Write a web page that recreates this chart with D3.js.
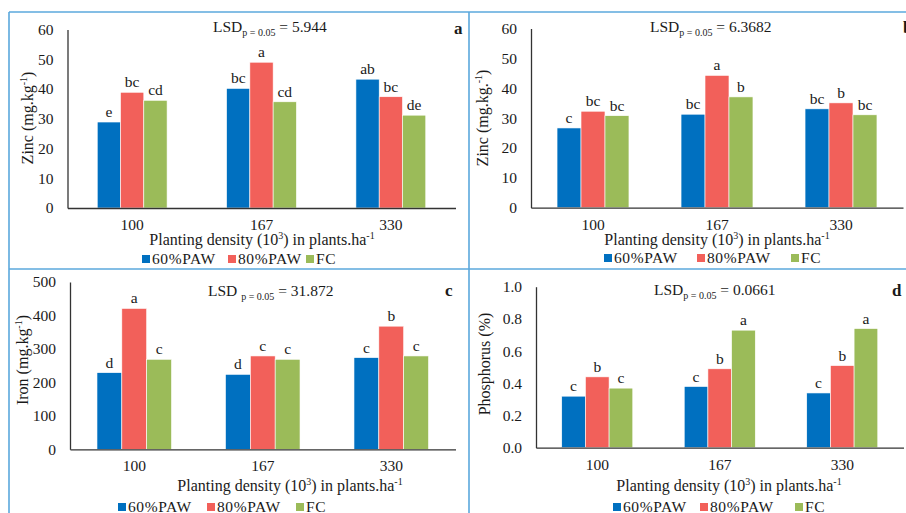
<!DOCTYPE html>
<html><head><meta charset="utf-8">
<script src="https://cdn.jsdelivr.net/npm/d3@7"></script>
<style>
body{margin:0;background:#fff}
svg{display:block}
text{font-family:"Liberation Serif","Times New Roman",serif;fill:#1a1a1a}
</style>
</head><body><svg id="c" width="906" height="513"></svg>
<script>
// ---------- data ----------
const categories = ["100", "167", "330"];
const seriesNames = ["60%PAW", "80%PAW", "FC"];
const seriesColors = ["#0070C0", "#F2605A", "#9BBB59"];

// Panel a – Zinc
const zincA60 = [28.9, 40.2, 43.3];
const zincA80 = [38.9, 49.0, 37.4];
const zincAFC = [36.2, 35.7, 31.2];
const zincALet60 = ["e", "bc", "ab"];
const zincALet80 = ["bc", "a", "bc"];
const zincALetFC = ["cd", "cd", "de"];
const zincATicks = [0, 10, 20, 30, 40, 50, 60];
const zincALsd = "5.944";

// Panel b – Zinc
const zincB60 = [26.7, 31.3, 33.1];
const zincB80 = [32.3, 44.3, 35.1];
const zincBFC = [30.8, 37.1, 31.1];
const zincBLet60 = ["c", "bc", "bc"];
const zincBLet80 = ["bc", "a", "b"];
const zincBLetFC = ["bc", "b", "bc"];
const zincBTicks = [0, 10, 20, 30, 40, 50, 60];
const zincBLsd = "6.3682";

// Panel c – Iron
const iron60 = [229, 224, 274];
const iron80 = [421, 279, 368];
const ironFC = [269, 269, 279];
const ironLet60 = ["d", "d", "c"];
const ironLet80 = ["a", "c", "b"];
const ironLetFC = ["c", "c", "c"];
const ironTicks = [0, 100, 200, 300, 400, 500];
const ironLsd = "31.872";

// Panel d – Phosphorus
const phos60 = [0.32, 0.38, 0.34];
const phos80 = [0.44, 0.49, 0.51];
const phosFC = [0.37, 0.73, 0.74];
const phosLet60 = ["c", "c", "c"];
const phosLet80 = ["b", "b", "b"];
const phosLetFC = ["c", "a", "a"];
const phosTicks = [0, 0.2, 0.4, 0.6, 0.8, 1.0];
const phosLsd = "0.0661";

// ---------- drawing ----------
const svg = d3.select("#c");
const borderColor = "#5BA8DC";

// panel frames
svg.append("line").attr("x1", 9).attr("x2", 906).attr("y1", 12).attr("y2", 12).attr("stroke", borderColor).attr("stroke-width", 1.6);
svg.append("line").attr("x1", 9).attr("x2", 906).attr("y1", 269).attr("y2", 269).attr("stroke", borderColor).attr("stroke-width", 1.6);
svg.append("line").attr("x1", 9).attr("x2", 9).attr("y1", 12).attr("y2", 513).attr("stroke", borderColor).attr("stroke-width", 1.6);
svg.append("line").attr("x1", 469).attr("x2", 469).attr("y1", 12).attr("y2", 513).attr("stroke", borderColor).attr("stroke-width", 1.6);

function drawPanel(p) {
  const g = svg.append("g");
  const x = d3.scaleBand().domain(categories).range([p.x0, p.x1]).paddingInner(0).paddingOuter(0);
  const step = x.bandwidth();
  const xs = d3.scaleBand().domain(seriesNames)
    .range([step * (0.5 - p.group / 2), step * (0.5 + p.group / 2)]).padding(0);
  const y = d3.scaleLinear().domain([0, p.yMax]).range([p.yBase, p.yTop]);

  // bars
  seriesNames.forEach((s, si) => {
    const vals = p.values[si];
    const lets = p.letters[si];
    g.selectAll(null).data(categories).enter().append("rect")
      .attr("x", (c) => x(c) + xs(s))
      .attr("y", (c, i) => y(vals[i]))
      .attr("width", xs.bandwidth())
      .attr("height", (c, i) => p.yBase - y(vals[i]))
      .attr("fill", seriesColors[si])
      .attr("stroke", "#ffffff").attr("stroke-width", 0.6);
    g.selectAll(null).data(categories).enter().append("text")
      .attr("x", (c) => x(c) + xs(s) + xs.bandwidth() / 2)
      .attr("y", (c, i) => y(vals[i]) - 5)
      .attr("text-anchor", "middle")
      .attr("font-size", 15.5)
      .text((c, i) => lets[i]);
  });

  // y axis
  const ya = g.append("g").attr("transform", `translate(${p.x0},0)`)
    .call(d3.axisLeft(y).tickValues(p.ticks).tickSize(0).tickPadding(14).tickFormat(p.fmt));
  ya.select(".domain").attr("stroke", "#333").attr("stroke-width", 1.3);
  ya.selectAll("text").attr("font-size", 15.5).attr("font-family", '"Liberation Serif", serif').attr("fill", "#1a1a1a");

  // x axis
  const xa = g.append("g").attr("transform", `translate(0,${p.yBase})`)
    .call(d3.axisBottom(x).tickSize(0).tickPadding(11));
  xa.select(".domain").attr("stroke", "#333").attr("stroke-width", 1.3);
  xa.selectAll("text").attr("font-size", 15.5).attr("font-family", '"Liberation Serif", serif').attr("fill", "#1a1a1a");

  // x title
  const xt = g.append("text").attr("x", p.xTitleX).attr("y", p.yBase + p.xTitleDy)
    .attr("text-anchor", "middle").attr("font-size", 16);
  xt.append("tspan").text("Planting density (10");
  xt.append("tspan").attr("font-size", 10).attr("dy", -6).text("3");
  xt.append("tspan").attr("dy", 6).text(") in plants.ha");
  xt.append("tspan").attr("font-size", 10).attr("dy", -6).text("-1");

  // y title
  const yt = g.append("text").attr("transform", `translate(${p.yTitleX},${p.yTitleY}) rotate(-90)`)
    .attr("text-anchor", "middle").attr("font-size", 16);
  if (p.yUnit) {
    yt.append("tspan").text(p.yTitle + " (" + p.yUnit);
    yt.append("tspan").attr("font-size", 10).attr("dy", -6).text("-1");
    yt.append("tspan").attr("dy", 6).text(")");
  } else {
    yt.text(p.yTitle);
  }

  // LSD
  const lt = g.append("text").attr("x", p.lsdX).attr("y", p.lsdY).attr("font-size", 15.5);
  lt.append("tspan").text(p.lsdSpace ? "LSD " : "LSD");
  lt.append("tspan").attr("font-size", 10).attr("dy", 4).text("p = 0.05");
  lt.append("tspan").attr("dy", -4).text(" = " + p.lsd);

  // panel label
  g.append("text").attr("x", p.labX).attr("y", p.labY).attr("font-size", 17)
    .attr("font-weight", "bold").text(p.label);

  // legend
  seriesNames.forEach((s, si) => {
    g.append("rect").attr("x", p.legX[si]).attr("y", p.legY - 4).attr("width", 8).attr("height", 8)
      .attr("fill", seriesColors[si]);
    g.append("text").attr("x", p.legX[si] + 10).attr("y", p.legY).attr("dy", "0.35em")
      .attr("font-size", 15.5).attr("letter-spacing", 0.6).text(s);
  });
}

const intFmt = d3.format("d");
const decFmt = d3.format(".1f");

drawPanel({
  x0: 67.5, x1: 455.5, yBase: 208, yTop: 29.5, yMax: 60, group: 0.54,
  values: [zincA60, zincA80, zincAFC], letters: [zincALet60, zincALet80, zincALetFC],
  ticks: zincATicks, fmt: intFmt,
  xTitleX: 262, xTitleDy: 37, yTitleX: 33, yTitleY: 118, yTitle: "Zinc", yUnit: "mg.kg",
  lsd: zincALsd, lsdX: 213, lsdY: 32, lsdSpace: false, label: "a", labX: 454, labY: 34,
  legX: [142, 228, 306], legY: 259
});
drawPanel({
  x0: 531, x1: 903, yBase: 207.7, yTop: 28.5, yMax: 60, group: 0.58,
  values: [zincB60, zincB80, zincBFC], letters: [zincBLet60, zincBLet80, zincBLetFC],
  ticks: zincBTicks, fmt: intFmt,
  xTitleX: 717, xTitleDy: 37, yTitleX: 488, yTitleY: 118, yTitle: "Zinc", yUnit: "mg.kg.",
  lsd: zincBLsd, lsdX: 650, lsdY: 32, lsdSpace: false, label: "b", labX: 903, labY: 33,
  legX: [604, 697, 791], legY: 258
});
drawPanel({
  x0: 70, x1: 455.5, yBase: 449.3, yTop: 282, yMax: 500, group: 0.58,
  values: [iron60, iron80, ironFC], letters: [ironLet60, ironLet80, ironLetFC],
  ticks: ironTicks, fmt: intFmt,
  xTitleX: 290, xTitleDy: 42, yTitleX: 28, yTitleY: 360, yTitle: "Iron", yUnit: "mg.kg",
  lsd: ironLsd, lsdX: 208, lsdY: 296, lsdSpace: true, label: "c", labX: 445, labY: 296,
  legX: [118, 207, 296], legY: 507
});
drawPanel({
  x0: 536, x1: 903.5, yBase: 447.7, yTop: 286.7, yMax: 1.0, group: 0.58,
  values: [phos60, phos80, phosFC], letters: [phosLet60, phosLet80, phosLetFC],
  ticks: phosTicks, fmt: decFmt,
  xTitleX: 729, xTitleDy: 43, yTitleX: 490, yTitleY: 364, yTitle: "Phosphorus (%)", yUnit: null,
  lsd: phosLsd, lsdX: 654, lsdY: 295, lsdSpace: false, label: "d", labX: 892, labY: 296,
  legX: [613, 700, 795], legY: 507
});
</script>
</body></html>
